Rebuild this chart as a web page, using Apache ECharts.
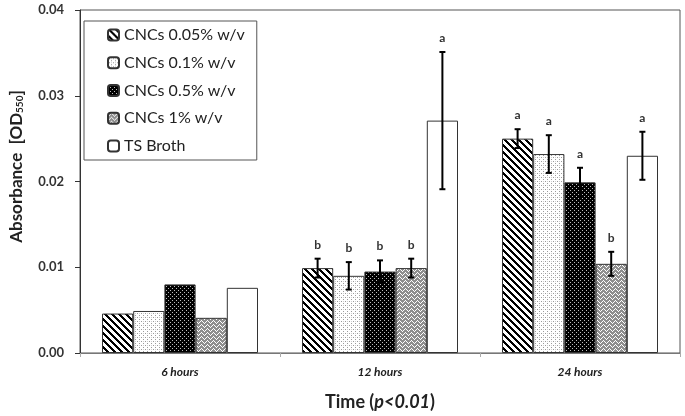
<!DOCTYPE html>
<html>
<head>
<meta charset="utf-8">
<script src="https://cdn.jsdelivr.net/npm/echarts@6/dist/echarts.min.js"></script>
<style>html,body{margin:0;padding:0;background:#fff}#c{width:685px;height:416px}</style>
</head>
<body>
<div id="c"></div>
<script>
const categories = ['6 hours', '12 hours', '24 hours'];
const seriesNames = ['CNCs 0.05% w/v', 'CNCs 0.1% w/v', 'CNCs 0.5% w/v', 'CNCs 1% w/v', 'TS Broth'];
const cnc005 = [0.0046, 0.0099, 0.0250];
const cnc01  = [0.0049, 0.0090, 0.0232];
const cnc05  = [0.0080, 0.0095, 0.0199];
const cnc1   = [0.0041, 0.0099, 0.0104];
const tsBroth = [0.0076, 0.0271, 0.0230];
const err005 = [null, 0.0011, 0.0011];
const err01  = [null, 0.0016, 0.0022];
const err05  = [null, 0.0013, 0.0017];
const err1   = [null, 0.0011, 0.0014];
const errTS  = [null, 0.0080, 0.0028];
const let005 = ['', 'b', 'a'];
const let01  = ['', 'b', 'a'];
const let05  = ['', 'b', 'a'];
const let1   = ['', 'b', 'b'];
const letTS  = ['', 'a', 'a'];
const yTicks = [0, 0.01, 0.02, 0.03, 0.04];

const values = [cnc005, cnc01, cnc05, cnc1, tsBroth];
const errors = [err005, err01, err05, err1, errTS];
const letters = [let005, let01, let05, let1, letTS];

function makeTile(w, h, bg, fn) {
  const c = document.createElement('canvas');
  c.width = w; c.height = h;
  const ctx = c.getContext('2d');
  ctx.fillStyle = bg; ctx.fillRect(0, 0, w, h);
  for (let y = 0; y < h; y++) for (let x = 0; x < w; x++) {
    const col = fn(x, y);
    if (col) { ctx.fillStyle = col; ctx.fillRect(x, y, 1, 1); }
  }
  return c;
}
const pat1 = makeTile(7, 7, '#ffffff', (x, y) => ((((x - y) % 7) + 7) % 7 < 3 ? '#000000' : null));
const pat2 = makeTile(4, 4, '#ffffff', (x, y) => ((x === 1 && y === 1) || (x === 3 && y === 3) ? '#9a9a9a' : ((x === 3 && y === 1) ? '#d0d0d0' : null)));
const pat3 = makeTile(4, 4, '#000000', (x, y) => ((x === 0 && y === 0) || (x === 2 && y === 2) ? '#bdbdbd' : null));
const pat4 = makeTile(6, 4, '#8e8e8e', (x, y) => (y === Math.min(3, Math.abs(x - 3)) ? '#ffffff' : null));
const fills = [
  { image: pat1, repeat: 'repeat' },
  { image: pat2, repeat: 'repeat' },
  { image: pat3, repeat: 'repeat' },
  { image: pat4, repeat: 'repeat' },
  '#ffffff'
];

const GAP = 0.22;
const FONT = 'Lato, "Open Sans", sans-serif';

const barSeries = seriesNames.map((n, k) => ({
  name: n,
  type: 'bar',
  data: values[k],
  barGap: '0%',
  barCategoryGap: (GAP * 100) + '%',
  itemStyle: { color: fills[k], borderColor: '#333', borderWidth: 1 },
  emphasis: { disabled: true },
  z: 2
}));

const errSeries = seriesNames.map((n, k) => ({
  name: n + ' err',
  type: 'custom',
  z: 5,
  silent: true,
  data: categories.map((c, i) => [i, values[k][i], errors[k][i] == null ? 0 : errors[k][i], i]),
  renderItem: function (params, api) {
    const i = api.value(0), v = api.value(1), e = api.value(2), idx = api.value(3);
    const base = api.coord([i, v]);
    const catW = api.size([1, 0])[0];
    const bw = catW * (1 - GAP) / 5;
    const cx = base[0] + (k - 2) * bw;
    const children = [];
    let topY = base[1];
    if (e > 0) {
      const t = api.coord([i, v + e])[1];
      const b = api.coord([i, v - e])[1];
      topY = t;
      const st = { stroke: '#000', lineWidth: 2 };
      children.push({ type: 'line', shape: { x1: cx, y1: t, x2: cx, y2: b }, style: st });
      children.push({ type: 'line', shape: { x1: cx - 3, y1: t, x2: cx + 3, y2: t }, style: st });
      children.push({ type: 'line', shape: { x1: cx - 3, y1: b, x2: cx + 3, y2: b }, style: st });
    }
    const L = letters[k][idx];
    if (L) {
      children.push({ type: 'text', style: { text: L, x: cx, y: topY - 14, align: 'center', verticalAlign: 'middle', font: 'bold 12px ' + FONT, fill: '#333' } });
    }
    return { type: 'group', children: children };
  }
}));

const chart = echarts.init(document.getElementById('c'), null, { renderer: 'canvas' });
chart.setOption({
  animation: false,
  backgroundColor: '#fff',
  grid: { left: 78, right: 5, top: 10, bottom: 63, show: true, borderColor: '#555', borderWidth: 1 },
  legend: {
    data: seriesNames,
    orient: 'vertical',
    left: 84, top: 21,
    padding: [6, 12, 6, 23],
    itemGap: 11.75,
    itemWidth: 11, itemHeight: 11,
    borderColor: '#555', borderWidth: 1,
    backgroundColor: '#fff',
    selectedMode: false,
    textStyle: { fontFamily: FONT, fontSize: 16, color: '#222', lineHeight: 16 }
  },
  xAxis: {
    type: 'category',
    data: categories,
    axisLine: { lineStyle: { color: '#777', width: 1 } },
    axisTick: { show: true, length: 4, lineStyle: { color: '#aaa' } },
    axisLabel: { margin: 13, fontFamily: FONT, fontSize: 12, fontWeight: 'bold', fontStyle: 'italic', color: '#222' },
    name: '{n|Time (}{i|p<0.01}{n|)}',
    nameLocation: 'middle',
    nameGap: 40,
    nameTextStyle: {
      rich: {
        n: { fontFamily: FONT, fontSize: 18, fontWeight: 'bold', color: '#222' },
        i: { fontFamily: FONT, fontSize: 18, fontWeight: 'bold', fontStyle: 'italic', color: '#222' }
      }
    }
  },
  yAxis: {
    type: 'value',
    min: yTicks[0], max: yTicks[yTicks.length - 1], interval: 0.01,
    splitLine: { show: false },
    axisLine: { show: true, lineStyle: { color: '#333', width: 1 } },
    axisTick: { show: true, length: 5, lineStyle: { color: '#333' } },
    axisLabel: { margin: 16, fontFamily: FONT, fontSize: 13, fontWeight: 'bold', color: '#333', formatter: v => v.toFixed(2) },
    name: '{p|}{a|Absorbance  [OD}{s|550}{a|]}',
    nameLocation: 'middle',
    nameGap: 55,
    nameTextStyle: {
      rich: {
        p: { width: 30, fontSize: 17 },
        a: { fontFamily: FONT, fontSize: 17, fontWeight: 'bold', color: '#222' },
        s: { fontFamily: FONT, fontSize: 10, fontWeight: 'bold', color: '#222', verticalAlign: 'bottom', padding: [7, 0, 0, 0] }
      }
    }
  },
  series: barSeries.concat(errSeries)
});
</script>
</body>
</html>
